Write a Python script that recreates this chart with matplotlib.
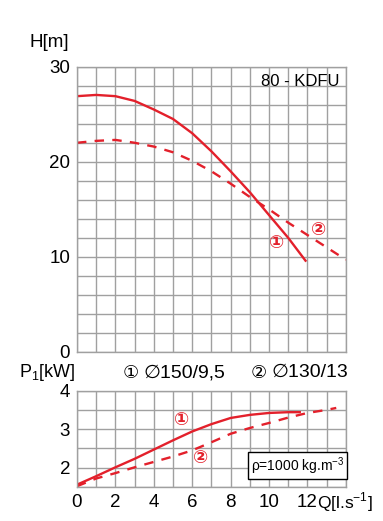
import matplotlib
matplotlib.use("Agg")
import matplotlib.pyplot as plt
from matplotlib import font_manager
import numpy as np

# ---- data ----
q_h1 = [0, 1, 2, 3, 4, 5, 6, 7, 8, 9, 10, 11, 11.9]
h1 = [26.9, 27.03, 26.9, 26.4, 25.5, 24.5, 23.0, 21.1, 19.0, 16.8, 14.4, 12.0, 9.6]
q_h2 = [0, 1, 2, 3, 4, 5, 6, 7, 8, 9, 10, 11, 12, 13, 14]
h2 = [22.0, 22.2, 22.3, 22.0, 21.6, 21.0, 20.1, 19.0, 17.7, 16.3, 15.0, 13.6, 12.3, 11.0, 9.7]
q_p1 = [0, 1, 2, 3, 4, 5, 6, 7, 8, 9, 10, 11, 11.6]
p1 = [1.56, 1.78, 2.01, 2.23, 2.47, 2.71, 2.94, 3.13, 3.29, 3.37, 3.42, 3.44, 3.44]
q_p2 = [0, 1, 2, 3, 4, 5, 6, 7, 8, 9, 10, 11, 12, 13, 13.5]
p2 = [1.52, 1.72, 1.86, 2.01, 2.15, 2.29, 2.45, 2.66, 2.88, 3.03, 3.16, 3.3, 3.42, 3.5, 3.55]
x_ticks = [0, 2, 4, 6, 8, 10, 12]
h_ticks = [0, 10, 20, 30]
p_ticks = [2, 3, 4]

RED = "#e3202b"
GRID = "#a0a0a0"
names = {f.name for f in font_manager.fontManager.ttflist}
main = "Liberation Sans Narrow" if "Liberation Sans Narrow" in names else "Liberation Sans"
FAM = [main, "DejaVu Sans", "Noto Sans CJK SC"]
plt.rcParams['font.family'] = FAM
plt.rcParams['mathtext.fontset'] = 'custom'
plt.rcParams['mathtext.rm'] = main

fig = plt.figure(figsize=(3.83, 5.21), dpi=100)
ax1 = fig.add_axes([0.201, 0.3244, 0.702, 0.5476])
ax2 = fig.add_axes([0.201, 0.0653, 0.702, 0.185])

for ax in (ax1, ax2):
    ax.set_xlim(0, 14)
    ax.set_xticks(np.arange(0, 14.01, 1))
    ax.grid(True, color=GRID, linewidth=1.0)
    for s in ax.spines.values():
        s.set_color(GRID)
        s.set_linewidth(1.0)
    ax.tick_params(length=0, labelsize=13.5, pad=5)
    ax.set_axisbelow(True)

# top axes
ax1.set_ylim(0, 30)
yt = np.arange(0, 30.01, 2)
ax1.set_yticks(yt)
ax1.set_yticklabels(["%d" % v if v in h_ticks else "" for v in yt])
ax1.set_xticklabels([])
ax1.plot(q_h1, h1, color=RED, lw=1.7)
ax1.plot(q_h2, h2, color=RED, lw=1.7, dashes=(4, 3.5))
ax1.text(0.975, 0.975, "80 - KDFU", transform=ax1.transAxes, ha='right', va='top', fontsize=12)
ax1.text(10.4, 11.5, "①", color=RED, fontsize=13, ha='center', va='center',
         family=["DejaVu Sans"], fontweight='bold')
ax1.text(12.6, 12.8, "②", color=RED, fontsize=13, ha='center', va='center',
         family=["DejaVu Sans"], fontweight='bold')
fig.text(0.078, 0.918, "H[m]", fontsize=13.5, ha='left', va='center')

# bottom axes
ax2.set_ylim(1.5, 4)
pt = np.arange(1.5, 4.01, 0.5)
ax2.set_yticks(pt)
ax2.set_yticklabels(["%d" % v if v in p_ticks else "" for v in pt])
xt = np.arange(0, 14.01, 1)
ax2.set_xticklabels(["%d" % v if v in x_ticks else "" for v in xt])
ax2.plot(q_p1, p1, color=RED, lw=1.7)
ax2.plot(q_p2, p2, color=RED, lw=1.7, dashes=(4, 3.5))
ax2.text(5.43, 3.24, "①", color=RED, fontsize=13, ha='center', va='center',
         family=["DejaVu Sans"], fontweight='bold')
ax2.text(6.45, 2.25, "②", color=RED, fontsize=13, ha='center', va='center',
         family=["DejaVu Sans"], fontweight='bold')
ax2.text(13.92, 2.05, r"ρ=1000 kg.m$^{-3}$", ha='right', va='center', fontsize=10,
         bbox=dict(boxstyle='square,pad=0.2', facecolor='white', edgecolor='black', linewidth=1.0))
fig.text(0.828, 0.037, r"Q[l.s$^{-1}$]", fontsize=12.5, ha='left', va='center')
fig.text(0.05, 0.285, r"P$_1$[kW]", fontsize=13, ha='left', va='center')
fig.text(0.32, 0.285, "①", fontsize=13, ha='left', va='center', family=["DejaVu Sans"])
fig.text(0.375, 0.285, "∅150/9,5", fontsize=14, ha='left', va='center')
fig.text(0.655, 0.285, "②", fontsize=13, ha='left', va='center', family=["DejaVu Sans"])
fig.text(0.71, 0.285, "∅130/13", fontsize=14, ha='left', va='center')

fig.savefig("out.png", dpi=100)
